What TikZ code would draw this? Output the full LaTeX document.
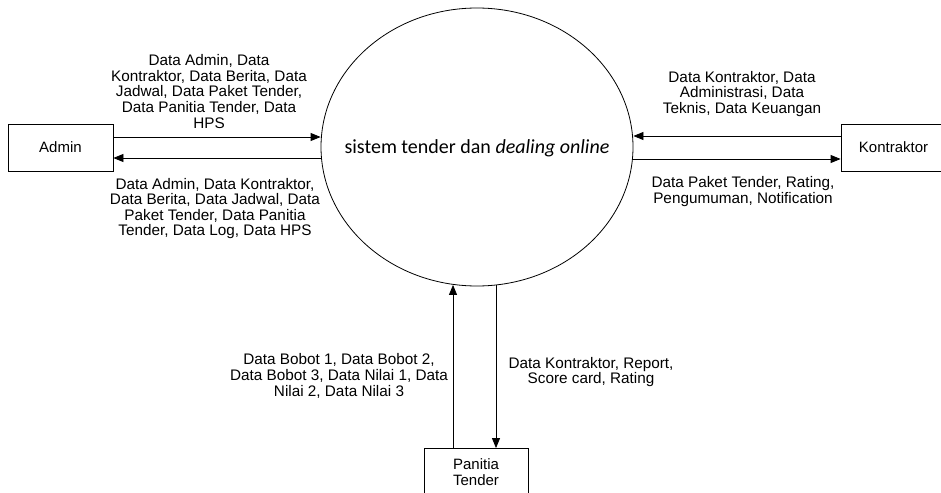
\documentclass[tikz,border=0pt]{standalone}
\usepackage{fontspec}
\setmainfont{Liberation Sans}
\newfontfamily\carlito{Carlito}
\usetikzlibrary{shapes.geometric,arrows.meta}
\begin{document}
\begin{tikzpicture}[x=1pt,y=-1pt,
 ent/.style={draw,line width=0.8pt,minimum width=105pt,minimum height=47pt,inner sep=0pt,font=\fontsize{15}{16}\selectfont,align=center},
 flow/.style={line width=0.8pt,-{Triangle[length=10pt,width=8pt]}},
 lbl/.style={align=center,font=\fontsize{15.3}{15.6}\selectfont,inner sep=0pt}]
\useasboundingbox (0,0) rectangle (941,492);
\node[ellipse,draw,line width=0.8pt,minimum width=312pt,minimum height=278pt,inner sep=0pt] (sys) at (477,147) {};
\node[font=\carlito\fontsize{20}{24}\selectfont,inner sep=0pt] (systxt) at ([yshift=-1pt]sys.center) {sistem tender dan \textit{dealing online}};
\node[ent] (admin) at (60.5,147.5) {Admin};
\node[ent] (kon) at (893.5,147.5) {Kontraktor};
\node[ent,minimum width=104pt] (pan) at (476,472) {Panitia\\Tender};

\coordinate (a1s) at ([yshift=10.5pt]admin.east);
\coordinate (a2e) at ([yshift=-10.5pt]admin.east);
\draw[flow] (a1s) -- (a1s -| sys.west);
\draw[flow] (a2e -| sys.west) -- (a2e);

\coordinate (k1s) at ([yshift=11.5pt]kon.west);
\coordinate (k2e) at ([yshift=-11.5pt]kon.west);
\draw[flow] (k1s) -- (k1s -| sys.east);
\draw[flow] (k2e -| sys.east) -- (k2e);

\coordinate (p1s) at ([xshift=-23pt]pan.north);
\coordinate (p2e) at ([xshift=20pt]pan.north);
\draw[flow] (p1s) -- ([yshift=1.5pt]p1s |- sys.south);
\draw[flow] ([yshift=1pt]p2e |- sys.south) -- (p2e);

\node[lbl] (l1) at (209,91.5) {Data Admin, Data\\Kontraktor, Data Berita, Data\\Jadwal, Data Paket Tender,\\Data Panitia Tender, Data\\HPS};
\node[lbl] (l2) at (215,208.5) {Data Admin, Data Kontraktor,\\Data Berita, Data Jadwal, Data\\Paket Tender, Data Panitia\\Tender, Data Log, Data HPS};
\node[lbl] (l3) at (742,94) {Data Kontraktor, Data\\Administrasi, Data\\Teknis, Data Keuangan};
\node[lbl] (l4) at (743,191.5) {Data Paket Tender, Rating,\\Pengumuman, Notification};
\node[lbl] (l5) at (339,376) {Data Bobot 1, Data Bobot 2,\\Data Bobot 3, Data Nilai 1, Data\\Nilai 2, Data Nilai 3};
\node[lbl] (l6) at (591,372) {Data Kontraktor, Report,\\Score card, Rating};
\end{tikzpicture}
\end{document}
